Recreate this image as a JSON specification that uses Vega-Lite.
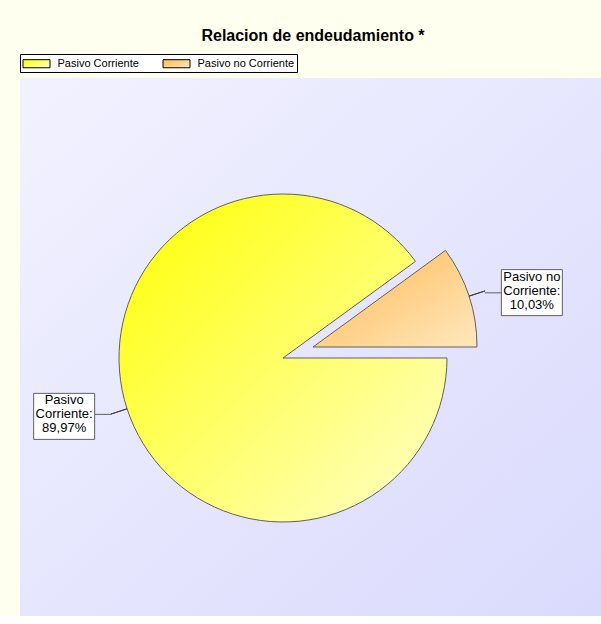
{
  "$schema": "https://vega.github.io/schema/vega-lite/v6.json",
  "width": 586,
  "height": 538,
  "autosize": {"type": "none"},
  "padding": {"left": 20, "top": 78, "right": 0, "bottom": 0},
  "background": "#FFFFF0",
  "title": {
    "text": "Relacion de endeudamiento *",
    "font": "Liberation Sans",
    "fontSize": 16,
    "fontWeight": "bold",
    "color": "#000000",
    "anchor": "middle",
    "offset": 10
  },
  "config": {"view": {"stroke": null}},
  "data": {
    "values": [
      {"cat": "Pasivo Corriente", "value": 89.97, "lbl": ["Pasivo", "Corriente:", "89,97%"]},
      {"cat": "Pasivo no Corriente", "value": 10.03, "lbl": ["Pasivo no", "Corriente:", "10,03%"]}
    ]
  },
  "resolve": {"scale": {"theta": "independent"}},
  "layer": [
    {
      "data": {"values": [{"area": "plot"}]},
      "mark": {
        "type": "rect",
        "fill": {
          "gradient": "linear",
          "x1": 0, "y1": 0, "x2": 1, "y2": 1,
          "stops": [
            {"offset": 0, "color": "#F2F2FF"},
            {"offset": 1, "color": "#DADAFD"}
          ]
        }
      },
      "encoding": {}
    },
    {
      "mark": {
        "type": "arc",
        "radius": 164,
        "stroke": "#606060",
        "strokeWidth": 1,
        "xOffset": {"expr": "datum.cat === 'Pasivo Corriente' ? -30 : 0"},
        "yOffset": {"expr": "datum.cat === 'Pasivo Corriente' ? 11 : 0"}
      },
      "encoding": {
        "theta": {"field": "value", "type": "quantitative", "stack": true, "scale": {"range": [0.9406, 7.2238]}},
        "order": {"field": "value", "sort": "ascending"},
        "color": {
          "field": "cat",
          "type": "nominal",
          "scale": {
            "domain": ["Pasivo Corriente", "Pasivo no Corriente"],
            "range": [
              {"expr": "{gradient: 'linear', x1: 0, y1: 0, x2: 1, y2: 1, stops: [{offset: 0, color: '#FFFF00'}, {offset: 1, color: '#FFFFCC'}]}"},
              {"expr": "{gradient: 'linear', x1: 0, y1: 0, x2: 1, y2: 1, stops: [{offset: 0, color: '#FFB850'}, {offset: 1, color: '#FFE8BE'}]}"}
            ]
          },
          "legend": {
            "orient": "none",
            "legendX": 0,
            "legendY": -24,
            "direction": "horizontal",
            "title": null,
            "symbolType": "M-2,-0.6H2V0.6H-2Z",
            "symbolSize": 182.25,
            "symbolOffset": 7,
            "symbolStrokeColor": "#000000",
            "symbolStrokeWidth": 1,
            "symbolOpacity": 1,
            "labelFont": "Liberation Sans",
            "labelFontSize": 11,
            "labelColor": "#000000",
            "labelOffset": 13.5,
            "columnPadding": 22,
            "padding": 2,
            "strokeColor": "#000000",
            "fillColor": "#FFFFFF"
          }
        }
      }
    },
    {
      "mark": {
        "type": "arc",
        "radius": 181,
        "radius2": 164,
        "fillOpacity": 0,
        "stroke": "#404040",
        "strokeWidth": 1,
        "thetaOffset": {"expr": "0.9406 + PI * (datum.value_start + datum.value_end) / 100"},
        "xOffset": {"expr": "datum.cat === 'Pasivo Corriente' ? -30 : 0"},
        "yOffset": {"expr": "datum.cat === 'Pasivo Corriente' ? 11 : 0"}
      },
      "encoding": {
        "theta": {"field": "value", "type": "quantitative", "stack": true, "scale": {"range": [0, 0]}},
        "order": {"field": "value", "sort": "ascending"}
      }
    },
    {
      "transform": [
        {"stack": "value", "groupby": [], "sort": [{"field": "value", "order": "ascending"}], "as": ["v0", "v1"]}
      ],
      "mark": {
        "type": "point",
        "filled": true,
        "fill": "#FFFFFF",
        "stroke": "#606060",
        "strokeWidth": 1,
        "opacity": 1,
        "size": 3721,
        "x": {"expr": "width / 2 + (datum.cat === 'Pasivo Corriente' ? -30 : 0) + 226 * sin(1.0036 + PI * (datum.v0 + datum.v1) / 100)"},
        "y": {"expr": "height / 2 + (datum.cat === 'Pasivo Corriente' ? 11 : 0) - 226 * cos(1.0036 + PI * (datum.v0 + datum.v1) / 100) + 2"}
      },
      "encoding": {
        "shape": {
          "field": "value",
          "type": "nominal",
          "scale": {
            "domain": [89.97, 10.03],
            "range": [
              "M-1,-0.754H1V0.754H-1ZM1,-0.066H1.541",
              "M-1,-0.754H1V0.754H-1ZM-1,0.007H-1.541"
            ]
          },
          "legend": null
        }
      }
    },
    {
      "mark": {
        "type": "text",
        "radius": 226,
        "thetaOffset": 0.063,
        "font": "Liberation Sans",
        "fontSize": 13,
        "lineHeight": 14,
        "color": "#000000",
        "align": "center",
        "baseline": "middle",
        "xOffset": {"expr": "datum.cat === 'Pasivo Corriente' ? -30 : 0"},
        "yOffset": {"expr": "datum.cat === 'Pasivo Corriente' ? -3 : -14"}
      },
      "encoding": {
        "theta": {"field": "value", "type": "quantitative", "stack": true, "scale": {"range": [0.9406, 7.2238]}},
        "order": {"field": "value", "sort": "ascending"},
        "text": {"field": "lbl"}
      }
    }
  ]
}
